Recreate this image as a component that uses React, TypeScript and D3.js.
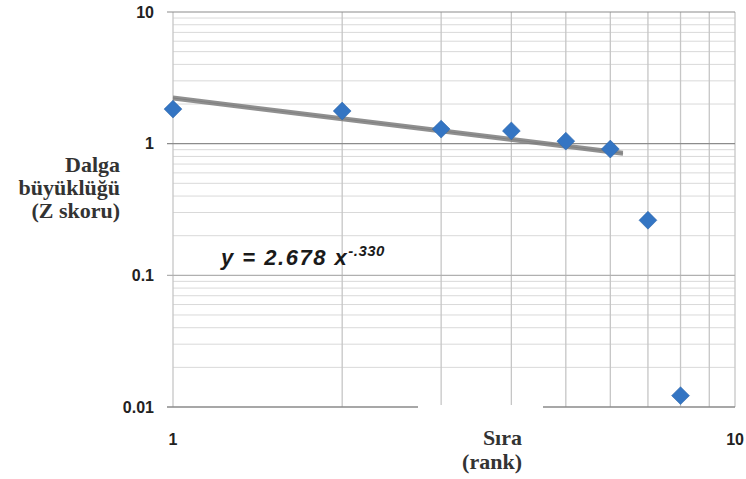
import { useEffect, useRef } from 'react';
import * as d3 from 'd3';

// rank (x) and wave size / Z score (y)
const ranks = [1, 2, 3, 4, 5, 6, 7, 8];
const zScores = [1.83, 1.77, 1.29, 1.25, 1.045, 0.91, 0.262, 0.0122];

// drawn power trend line end points
const trendX = [1, 6.32];
const trendY = [2.26, 0.862];

const yMajorTicks = [10, 1, 0.1, 0.01];
const yTickLabels = ['10', '1', '0.1', '0.01'];
const xTickValues = [1, 10];
const xTickLabels = ['1', '10'];

const yTitle = ['Dalga', 'büyüklüğü', '(Z skoru)'];
const xTitle = ['Sıra', '(rank)'];

const SERIF = 'Liberation Serif';
const SANS = "'Liberation Sans', Arial, sans-serif";

export default function App() {
  const svgRef = useRef<SVGSVGElement | null>(null);

  useEffect(() => {
    if (!svgRef.current) return;
    const svg = d3.select(svgRef.current);
    svg.selectAll('*').remove();

    const width = 746;
    const height = 479;
    const margin = { top: 12, right: 11, bottom: 72, left: 173 };

    const x = d3.scaleLog().domain([1, 10]).range([margin.left, width - margin.right]);
    const y = d3.scaleLog().domain([0.01, 10]).range([height - margin.bottom, margin.top]);

    svg.attr('viewBox', `0 0 ${width} ${height}`);
    svg.append('rect').attr('width', width).attr('height', height).attr('fill', '#fff');

    // minor horizontal grid
    const yMinor: number[] = [];
    [0.01, 0.1, 1].forEach((d) => {
      for (let k = 2; k <= 9; k++) yMinor.push(d * k);
    });
    svg
      .append('g')
      .selectAll('line')
      .data(yMinor)
      .join('line')
      .attr('x1', x(1))
      .attr('x2', x(10))
      .attr('y1', (d) => y(d))
      .attr('y2', (d) => y(d))
      .attr('stroke', '#d9d9d9')
      .attr('stroke-width', 1);

    // vertical grid
    svg
      .append('g')
      .selectAll('line')
      .data(d3.range(1, 11))
      .join('line')
      .attr('x1', (d) => x(d))
      .attr('x2', (d) => x(d))
      .attr('y1', y(10))
      .attr('y2', y(0.01))
      .attr('stroke', '#c6c6c6')
      .attr('stroke-width', 1.3);

    // major horizontal lines
    svg
      .append('g')
      .selectAll('line')
      .data([10, 1, 0.1])
      .join('line')
      .attr('x1', x(1) - 6)
      .attr('x2', x(10))
      .attr('y1', (d) => y(d))
      .attr('y2', (d) => y(d))
      .attr('stroke', (d) => (d === 0.1 ? '#b0b0b0' : '#8c8c8c'))
      .attr('stroke-width', 1.2);

    // bottom axis line
    svg
      .append('line')
      .attr('x1', x(1) - 6)
      .attr('x2', x(10))
      .attr('y1', y(0.01))
      .attr('y2', y(0.01))
      .attr('stroke', '#8a8a8a')
      .attr('stroke-width', 1.6);

    // y tick labels
    svg
      .append('g')
      .selectAll('text')
      .data(yMajorTicks)
      .join('text')
      .attr('x', x(1) - 19)
      .attr('y', (d) => y(d))
      .attr('dy', '0.36em')
      .attr('text-anchor', 'end')
      .style('font-family', SANS)
      .style('font-weight', 'bold')
      .style('font-size', '16px')
      .attr('fill', '#222')
      .text((_, i) => yTickLabels[i]);

    // x tick labels
    svg
      .append('g')
      .selectAll('text')
      .data(xTickValues)
      .join('text')
      .attr('x', (d) => x(d))
      .attr('y', y(0.01) + 38)
      .attr('text-anchor', (d) => (d === 10 ? 'end' : 'middle'))
      .attr('dx', (d) => (d === 10 ? 9 : 0))
      .style('font-family', SANS)
      .style('font-weight', 'bold')
      .style('font-size', '16px')
      .attr('fill', '#222')
      .text((_, i) => xTickLabels[i]);

    // axis titles
    const yt = svg
      .append('text')
      .attr('text-anchor', 'end')
      .attr('font-family', SERIF)
      .attr('font-weight', 'bold')
      .attr('font-size', 22)
      .attr('fill', '#333');
    yTitle.forEach((t, i) => {
      yt.append('tspan').attr('x', 120).attr('y', 172 + i * 23).text(t);
    });

    svg
      .append('rect')
      .attr('x', 418)
      .attr('y', y(0.01) - 2)
      .attr('width', 125)
      .attr('height', 6)
      .attr('fill', '#fff');
    const xt = svg
      .append('text')
      .attr('text-anchor', 'end')
      .attr('font-family', SERIF)
      .attr('font-weight', 'bold')
      .attr('font-size', 22)
      .attr('fill', '#333');
    xTitle.forEach((t, i) => {
      xt.append('tspan').attr('x', 522).attr('y', 445 + i * 24).text(t);
    });

    // trend line (drawn doubled, like the original)
    const line = d3
      .line<number>()
      .x((d) => x(d))
      .y((_, i) => y(trendY[i]));
    [0, 2].forEach((off) => {
      svg
        .append('path')
        .datum(trendX)
        .attr('transform', `translate(0, ${off})`)
        .attr('fill', 'none')
        .attr('stroke', '#7c7c7c')
        .attr('stroke-width', 3)
        .attr('stroke-opacity', 0.85)
        .attr('d', line);
    });

    // equation
    const eq = svg
      .append('text')
      .attr('x', 221)
      .attr('y', 265)
      .style('font-family', SANS)
      .style('font-weight', 'bold')
      .style('font-style', 'italic')
      .style('font-size', '22px')
      .style('letter-spacing', '1.5px')
      .attr('fill', '#1a1a1a');
    eq.append('tspan').text('y = 2.678 x');
    eq.append('tspan').style('font-size', '15px').style('letter-spacing', '0.5px').attr('dy', -9).text('-.330');

    // markers
    const diamond = d3.symbol().type(d3.symbolSquare).size(160);
    svg
      .append('g')
      .selectAll('path')
      .data(ranks)
      .join('path')
      .attr('d', diamond)
      .attr('transform', (d, i) => `translate(${x(d)},${y(zScores[i])}) rotate(45)`)
      .attr('fill', '#3475c3')
      .attr('stroke', '#2a63a8')
      .attr('stroke-width', 0.5);
  }, []);

  return (
    <svg
      ref={svgRef}
      width={746}
      height={479}
      style={{ position: 'absolute', left: 0, top: 0, display: 'block' }}
      role="img"
      aria-label="Log-log rank chart"
    />
  );
}
